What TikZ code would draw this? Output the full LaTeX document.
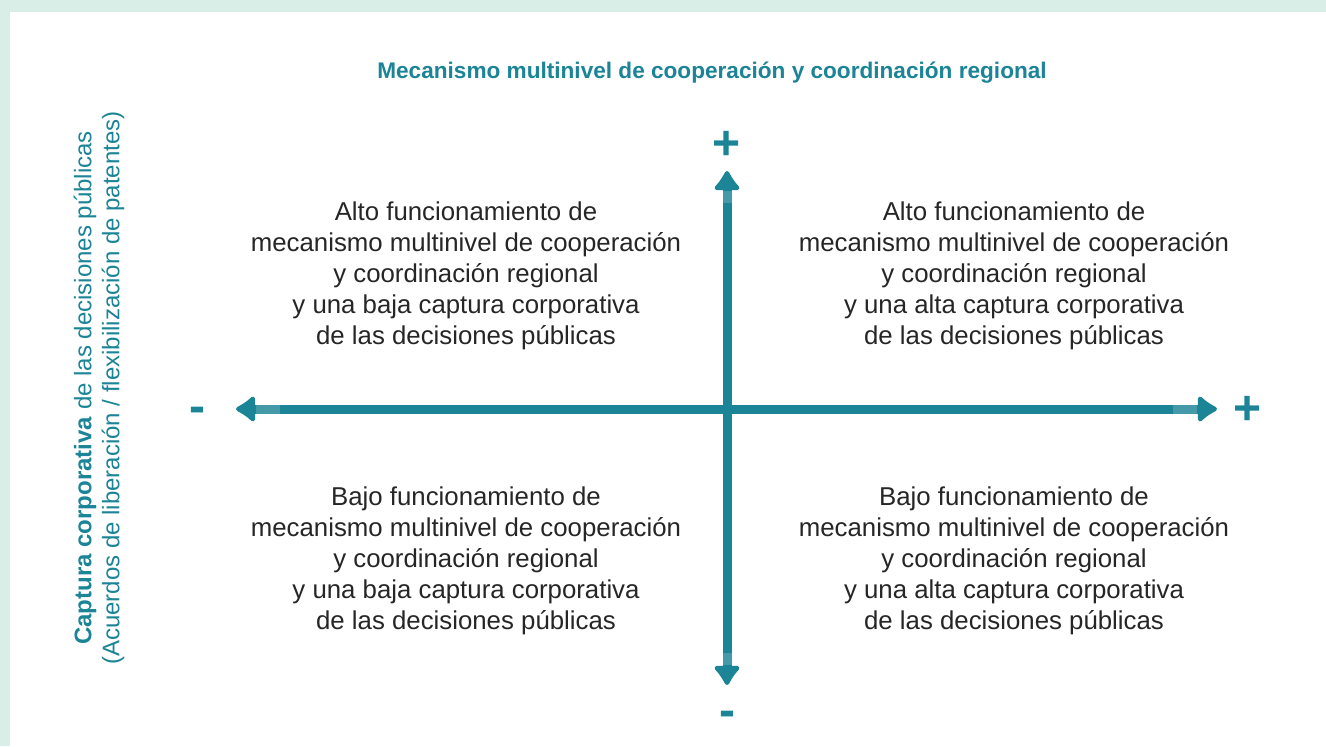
\documentclass[tikz,border=0pt]{standalone}
\usepackage{fontspec}
\setmainfont{Liberation Sans}
\usepackage{tikz}
\usetikzlibrary{arrows.meta, positioning}
\definecolor{ejeteal}{RGB}{27,132,150}
\definecolor{fondomenta}{RGB}{218,238,232}

\begin{document}
\begin{tikzpicture}[x=0.5pt, y=-0.5pt]
        \tikzstyle{cuadrante} = [align=center, font=\fontsize{12.9}{15.5}\selectfont, text=black!85]
        \tikzstyle{signo} = [font=\fontsize{24}{24}\selectfont\bfseries, text=ejeteal, inner sep=0pt]
        \tikzstyle{eje} = [ejeteal, line width=4.5pt, {Latex[round,length=11pt,width=16pt]}-{Latex[round,length=11pt,width=16pt]}]
        \tikzstyle{brillo} = [ejeteal!82!white, line width=4.5pt]

        % fondo
        \fill[fondomenta] (0,0) rectangle (1326,746);
        \fill[white] (10,12) rectangle (1326,746);
        \useasboundingbox (0,0) rectangle (1326,746);

        \node (titulo) [font=\fontsize{11.3}{13}\selectfont\bfseries, text=ejeteal] at (712,73) {Mecanismo multinivel de cooperación y coordinación regional};
        \node (vertical) [rotate=90, align=center, text=ejeteal, font=\fontsize{12}{14}\selectfont] at (99,388) {\textbf{Captura corporativa} de las decisiones públicas\\(Acuerdos de liberación / flexibilización de patentes)};

        % ejes
        \coordinate (izq) at (236,409);
        \coordinate (der) at (1217,409);
        \coordinate (arriba) at (727,171);
        \coordinate (abajo) at (727,685);
        \draw [eje] (izq) -- (der);
        \draw [eje] (abajo) -- (arriba);
        \draw [brillo] ([xshift=10pt]izq) -- ([xshift=22pt]izq);
        \draw [brillo] ([xshift=-10pt]der) -- ([xshift=-22pt]der);
        \draw [brillo] ([yshift=-10pt]arriba) -- ([yshift=-16pt]arriba);
        \draw [brillo] ([yshift=10pt]abajo) -- ([yshift=16pt]abajo);

        \node (masy) [signo] at (727,145) {+};
        \node (menosy) [signo] at (727,719) {-};
        \node (menosx) [signo] at (197,415) {-};
        \node (masx) [signo] at (1247,410) {+};

        % cuadrantes
        \node (arribaizq) [cuadrante] at (466,276) {Alto funcionamiento de\\mecanismo multinivel de cooperación\\y coordinación regional\\y una baja captura corporativa\\de las decisiones públicas};
        \node (arribader) [cuadrante] at (1014,276) {Alto funcionamiento de\\mecanismo multinivel de cooperación\\y coordinación regional\\y una alta captura corporativa\\de las decisiones públicas};
        \node (abajoizq) [cuadrante] at (466,561) {Bajo funcionamiento de\\mecanismo multinivel de cooperación\\y coordinación regional\\y una baja captura corporativa\\de las decisiones públicas};
        \node (abajoder) [cuadrante] at (1014,561) {Bajo funcionamiento de\\mecanismo multinivel de cooperación\\y coordinación regional\\y una alta captura corporativa\\de las decisiones públicas};
    \end{tikzpicture}
\end{document}
